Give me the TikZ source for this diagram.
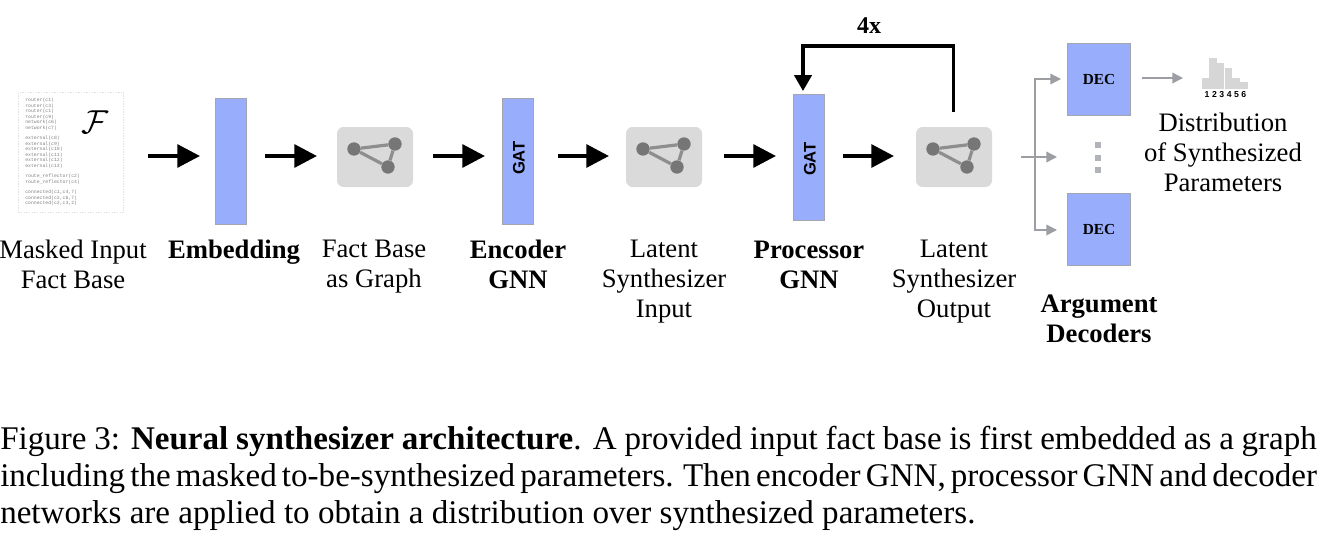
\documentclass[tikz,border=0pt]{standalone}
\usepackage{fontspec}
\setmainfont{Liberation Serif}
\newfontfamily\helv{Liberation Sans}
\newfontfamily\monof{Liberation Mono}
\usetikzlibrary{arrows.meta,calc}
\definecolor{boxblue}{HTML}{98ADFB}
\definecolor{boxline}{HTML}{A3A6AE}
\definecolor{graphbg}{HTML}{DADADA}
\definecolor{graphnode}{HTML}{767676}
\definecolor{graphedge}{HTML}{8E8E8E}
\definecolor{thinarrow}{HTML}{9C9EA3}
\definecolor{barcol}{HTML}{D6D6D6}
\newcommand{\capline}[1]{\hbox to 987.5pt{\spaceskip=0.22em plus 0.3em minus 0.2em\relax #1}}
\tikzset{
  lbl/.style={font=\fontsize{20}{22.5}\selectfont,align=center,inner sep=0pt,text=black},
  blbl/.style={lbl,font=\fontsize{20}{22.5}\selectfont\bfseries},
  bluebox/.style={draw=boxline,fill=boxblue,line width=0.9pt,inner sep=0pt,minimum width=#1},
  graphbox/.style={fill=graphbg,rounded corners=5pt,inner sep=0pt,minimum width=57pt,minimum height=45pt},
  gnode/.style={circle,fill=graphnode,inner sep=0pt,minimum size=10pt},
  gedge/.style={draw=graphedge,line width=2.4pt},
  bigarrow/.style={-{Triangle[length=17pt,width=17pt]},line width=3pt,black},
  greyarrow/.style={-{Triangle[length=8pt,width=8pt]},line width=1pt,thinarrow},
  dots/.style={fill=boxline!85,inner sep=0pt,minimum size=5pt},
  histbar/.style={fill=barcol,inner sep=0pt,anchor=south,minimum width=5.6pt},
  gatlabel/.style={rotate=90,font=\helv\bfseries\fontsize{12.5}{13}\selectfont,inner sep=0pt},
  captext/.style={font=\fontsize{24.8}{27.75}\selectfont,align=left,inner sep=0pt,anchor=north west,text=black}
}
\begin{document}
\begin{tikzpicture}[x=0.75pt,y=-0.75pt]
\useasboundingbox (0,0) rectangle (1336,540);
% fact base
\node[draw=black!12,densely dotted,line width=1pt,minimum width=79pt,minimum height=90pt,inner sep=0pt] (facts) at (71,152.5) {};
\node[inner sep=0pt,anchor=north west,align=left,text=black!50,font=\monof\fontsize{3.6}{4.1}\selectfont] (factstext) at (25,98) {router(c1)\\router(c3)\\router(c1)\\router(c9)\\network(c6)\\network(c7)\\[3.9pt]external(c8)\\external(c9)\\external(c10)\\external(c11)\\external(c12)\\external(c13)\\[3.9pt]route\_reflector(c2)\\route\_reflector(c4)\\[3.9pt]connected(c1,c4,7)\\connected(c2,c6,7)\\connected(c2,c3,2)};
\node[inner sep=0pt,font=\fontsize{25}{25}\selectfont] (calf) at (95,122) {$\mathcal{F}$};
\node[lbl] (l1) at (73,264) {Masked Input\\Fact Base};
% embedding
\node[bluebox=23.5pt,minimum height=95pt] (emb) at (231,161.5) {};
\node[blbl] (l2) at (234,252) {Embedding};
% graph 1
\node[graphbox] (g1) at (375,157) {};
\node[lbl] (l3) at (374,267) {Fact Base\\as Graph};
% encoder
\node[bluebox=23.5pt,minimum height=95pt] (enc) at (518,161.5) {};
\node[gatlabel] (enct) at (519,158) {GAT};
\node[blbl] (l4) at (518,264.5) {Encoder\\GNN};
% graph 2
\node[graphbox] (g2) at (664,157) {};
\node[lbl] (l5) at (664,282) {Latent\\Synthesizer\\Input};
% processor
\node[bluebox=23.5pt,minimum height=94pt] (proc) at (809,157.5) {};
\node[gatlabel] (proct) at (810,159) {GAT};
\node[blbl] (l6) at (809,264.5) {Processor\\GNN};
% graph 3
\node[graphbox] (g3) at (954,157) {};
\node[lbl] (l7) at (954,282) {Latent\\Synthesizer\\Output};
% graph contents
\foreach \g in {g1,g2,g3}{
  \node[gnode] (\g a) at ($(\g.center)+(-21,-8)$) {};
  \node[gnode] (\g b) at ($(\g.center)+(20,-13)$) {};
  \node[gnode] (\g c) at ($(\g.center)+(13,10)$) {};
  \draw[gedge] (\g a) -- (\g b);
  \draw[gedge] (\g b) -- (\g c);
  \draw[gedge] (\g a) -- (\g c);
}
% big arrows
\coordinate (s1) at (148,156); \coordinate (e1) at (200,156);
\draw[bigarrow] (s1) -- (e1);
\coordinate (s2) at (265,156); \coordinate (e2) at (317,156);
\draw[bigarrow] (s2) -- (e2);
\coordinate (s3) at (433,156); \coordinate (e3) at (485,156);
\draw[bigarrow] (s3) -- (e3);
\coordinate (s4) at (558,156); \coordinate (e4) at (609,156);
\draw[bigarrow] (s4) -- (e4);
\coordinate (s5) at (724,156); \coordinate (e5) at (776,156);
\draw[bigarrow] (s5) -- (e5);
\coordinate (s6) at (843,156); \coordinate (e6) at (894,156);
\draw[bigarrow] (s6) -- (e6);
% loop
\coordinate (loopa) at (953.5,112);
\coordinate (loopb) at (953.5,46);
\coordinate (loopc) at (803,46);
\coordinate (loopd) at (803,91);
\draw[-{Triangle[length=12pt,width=13pt]},line width=2.6pt,black,line join=miter]
  (loopa) -- (loopb) -- (loopc) -- (loopd);
\node[font=\fontsize{18}{20}\selectfont\bfseries,inner sep=0pt] (four) at (869,26) {4x};
% decoders
\node[bluebox=47.5pt,minimum height=54.5pt,font=\fontsize{11.5}{12}\selectfont\bfseries] (dec1) at (1099,79.5) {DEC};
\node[bluebox=47.5pt,minimum height=54.5pt,font=\fontsize{11.5}{12}\selectfont\bfseries] (dec2) at (1099,229.5) {DEC};
\node[dots] (d1) at (1098,145) {};
\node[dots] (d2) at (1098,158) {};
\node[dots] (d3) at (1098,170) {};
\coordinate (fork) at (1035,157);
\coordinate (src) at (1021,157);
\coordinate (t0) at (1057,157);
\coordinate (t1) at (1061,79);
\coordinate (t2) at (1057,230);
\draw[greyarrow] (src) -- (t0);
\draw[greyarrow] (fork) |- (t1);
\draw[greyarrow] (fork) |- (t2);
\node[blbl] (l8) at (1099,319) {Argument\\Decoders};
% histogram
\node[histbar,minimum height=8.2pt] (b1) at (1206,89) {};
\node[histbar,minimum height=23.2pt] (b2) at (1213,89) {};
\node[histbar,minimum height=19.5pt] (b3) at (1220.5,89) {};
\node[histbar,minimum height=15.7pt] (b4) at (1228.5,89) {};
\node[histbar,minimum height=8.2pt] (b5) at (1236,89) {};
\node[histbar,minimum height=5.2pt] (b6) at (1244,89) {};
\node[font=\helv\bfseries\fontsize{6.5}{7}\selectfont,inner sep=0pt] (hnum) at (1225.5,95) {1\kern1.9pt 2\kern1.9pt 3\kern1.9pt 4\kern1.9pt 5\kern1.9pt 6};
\coordinate (h1) at (1142,78);
\coordinate (h2) at (1183,78);
\draw[greyarrow] (h1) -- (h2);
\node[lbl] (l9) at (1223,152) {Distribution\\of Synthesized\\Parameters};
% caption
\node[captext] (caption) at (0,426) {\capline{Figure 3: \textbf{Neural synthesizer architecture}. A provided input fact base is first embedded as a graph}\\\capline{including the masked to-be-synthesized parameters. Then encoder GNN, processor GNN and decoder}\\networks are applied to obtain a distribution over synthesized parameters.};
\end{tikzpicture}
\end{document}
